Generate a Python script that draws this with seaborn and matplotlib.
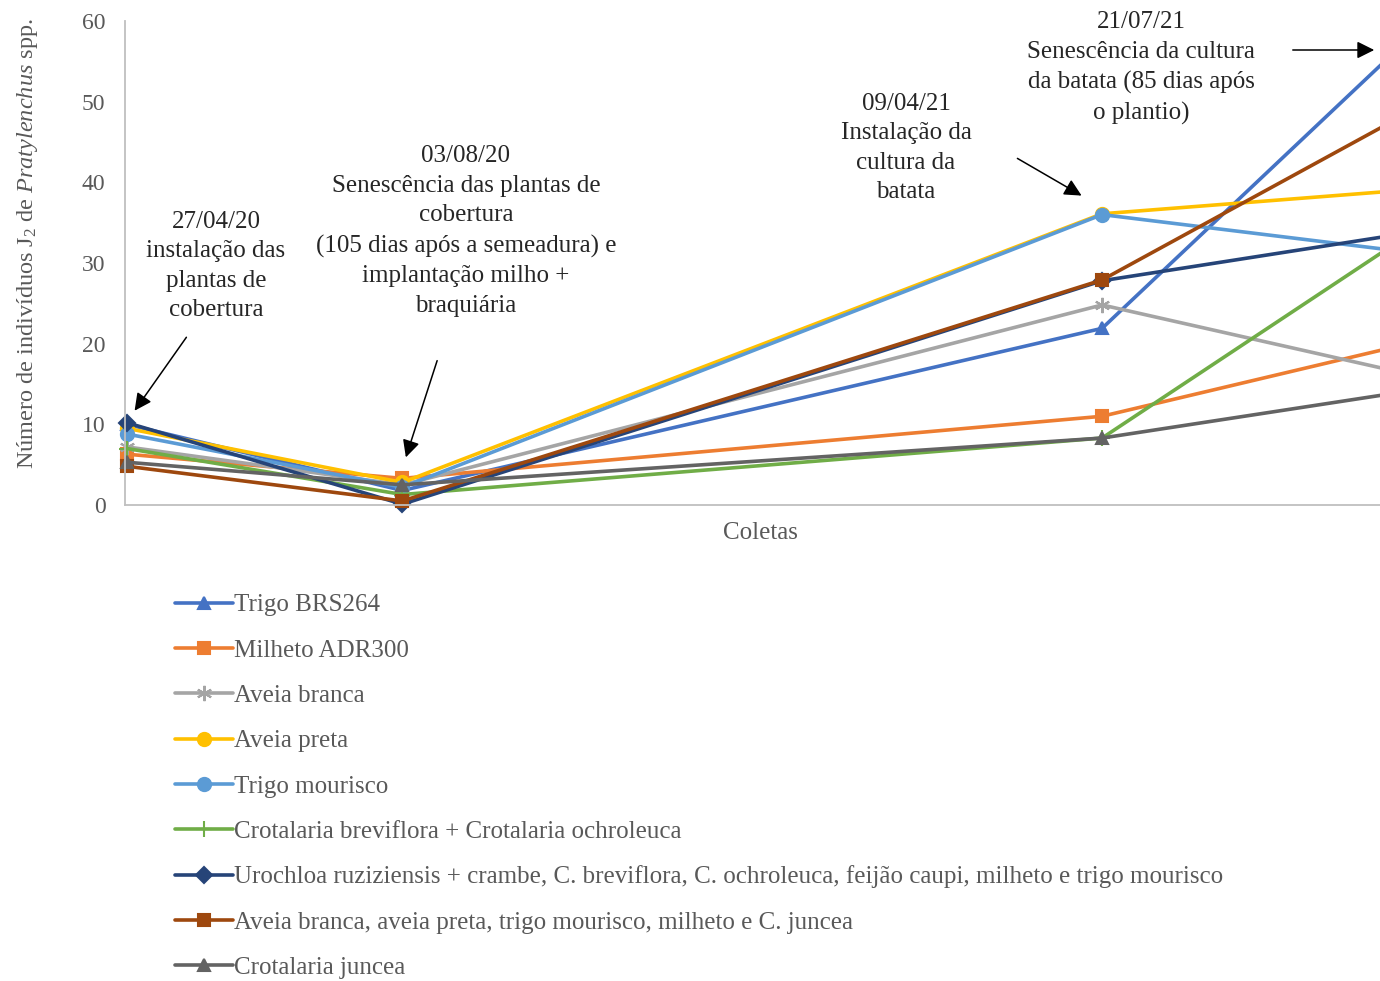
import matplotlib
matplotlib.use("Agg")
import matplotlib.pyplot as plt
import seaborn as sns
import pandas as pd

# Sampling dates (collections)
coletas = ["2020-04-27", "2020-08-03", "2021-04-09", "2021-07-21"]

# Number of Pratylenchus J2 individuals per treatment at each collection
trigo_brs264 = [10.0, 1.8, 21.9, 55.8]
milheto_adr300 = [6.3, 3.3, 11.0, 19.5]
aveia_branca = [7.2, 2.5, 24.8, 16.7]
aveia_preta = [9.5, 2.8, 36.1, 38.9]
trigo_mourisco = [8.8, 2.2, 36.0, 31.6]
crot_brev_ochro = [7.0, 1.3, 8.3, 32.1]
urochloa_mix = [10.2, 0.1, 27.8, 33.4]
aveia_mix = [4.8, 0.5, 27.9, 47.5]
crot_juncea = [5.3, 2.5, 8.3, 13.8]

series_names = [
    "Trigo BRS264",
    "Milheto ADR300",
    "Aveia branca",
    "Aveia preta",
    "Trigo mourisco",
    "Crotalaria breviflora + Crotalaria ochroleuca",
    "Urochloa ruziziensis + crambe, C. breviflora, C. ochroleuca, feijão caupi, milheto e trigo mourisco",
    "Aveia branca, aveia preta, trigo mourisco, milheto e C. juncea",
    "Crotalaria juncea",
]
series_values = [trigo_brs264, milheto_adr300, aveia_branca, aveia_preta,
                 trigo_mourisco, crot_brev_ochro, urochloa_mix, aveia_mix,
                 crot_juncea]
series_colors = ["#4472C4", "#ED7D31", "#A5A5A5", "#FFC000", "#5B9BD5",
                 "#70AD47", "#264478", "#9E480E", "#636363"]
series_markers = ["^", "s", (6, 2, 0), "o", "o", "+", "D", "s", "^"]
series_msize = [9, 8.5, 11, 9.5, 9.5, 12, 8.5, 8.5, 9]

ylabel = r"Número de indivíduos J$_2$ de $\mathit{Pratylenchus}$ spp."
xlabel = "Coletas"

annotations = [
    ("27/04/20\ninstalação das\nplantas de\ncobertura", (216, 266), (188, 335), (133, 413)),
    ("03/08/20\nSenescência das plantas de\ncobertura\n(105 dias após a semeadura) e\nimplantação milho +\nbraquiária",
     (466, 231), (438, 358), (405, 460)),
    ("09/04/21\nInstalação da\ncultura da\nbatata", (906, 148), (1015, 157), (1084, 197)),
    ("21/07/21\nSenescência da cultura\nda batata (85 dias após\no plantio)", (1141, 68), (1290, 50), (1377, 50)),
]

sns.set_theme(style="white")
plt.rcParams["font.family"] = ["Liberation Serif", "DejaVu Serif"]
plt.rcParams["mathtext.fontset"] = "custom"
plt.rcParams["mathtext.rm"] = "Liberation Serif"
plt.rcParams["mathtext.it"] = "Liberation Serif:italic"

W, H = 1380, 981
fig = plt.figure(figsize=(W / 100, H / 100), dpi=100)


def fx(px):
    return px / W


def fy(py):
    return 1 - py / H


ax = fig.add_axes([fx(125), fy(505), fx(1380) - fx(125), fy(21) - fy(505)])

dates = pd.to_datetime(coletas, format="%Y-%m-%d")
for name, vals, col, mk, ms in zip(series_names, series_values, series_colors,
                                   series_markers, series_msize):
    df = pd.DataFrame({"data": dates, "valor": vals})
    sns.lineplot(data=df, x="data", y="valor", ax=ax, color=col, marker=mk,
                 markersize=ms, markeredgecolor=col, markerfacecolor=col,
                 markeredgewidth=1.5, linewidth=2.6, label=name)

for ln in ax.lines:
    ln.set_clip_on(False)

ax.set_ylim(0, 60)
ax.set_yticks(range(0, 61, 10))
ax.set_xlim(dates[0] - pd.Timedelta(days=0.7), dates[0] + pd.Timedelta(days=445.9))
ax.set_xticks([])
ax.tick_params(axis="y", length=0, pad=14, labelsize=17, labelcolor="#595959")
for s in ["top", "right"]:
    ax.spines[s].set_visible(False)
for s in ["left", "bottom"]:
    ax.spines[s].set_color("#BFBFBF")
    ax.spines[s].set_linewidth(1.3)
ax.set_xlabel("")
ax.set_ylabel("")

fig.text(fx(28), fy(244), ylabel, rotation=90, ha="center", va="center",
         fontsize=17.5, color="#595959")
fig.text(fx(760), fy(533), xlabel, ha="center", va="center",
         fontsize=18, color="#595959")

for txt, (tx, ty), tail, head in annotations:
    fig.text(fx(tx), fy(ty), txt, ha="center", va="center", fontsize=18,
             color="#262626", linespacing=1.45, multialignment="center")
    fig.add_artist(matplotlib.patches.FancyArrowPatch(
        (fx(tail[0]), fy(tail[1])), (fx(head[0]), fy(head[1])),
        transform=fig.transFigure, arrowstyle="-|>", mutation_scale=26,
        color="black", linewidth=1.1))

handles, labels = ax.get_legend_handles_labels()
ax.get_legend().remove()
fig.legend(handles, labels, loc="upper left",
           bbox_to_anchor=(fx(165), fy(584)), frameon=False, ncol=1,
           fontsize=18, labelcolor="#595959", handlelength=2.3,
           handletextpad=0.05, labelspacing=0.91, borderaxespad=0)

fig.savefig("out.png", dpi=100)
